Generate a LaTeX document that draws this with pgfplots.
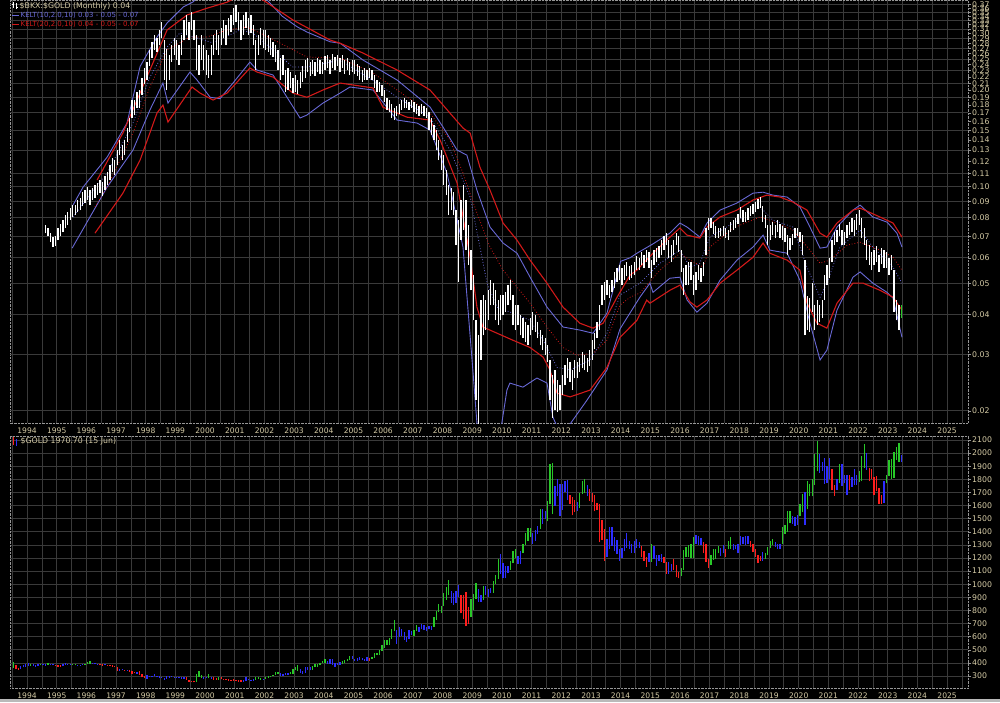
\documentclass[border=0pt]{standalone}
\usepackage{fontspec}
\setmainfont{DejaVu Sans}
\usepackage{pgfplots}
\usepackage{pgfplotstable}
\pgfplotsset{compat=1.18}
\definecolor{tan}{RGB}{212,202,165}
\definecolor{gridc}{RGB}{58,58,58}
\definecolor{frm}{RGB}{150,150,150}
\definecolor{band}{RGB}{185,185,185}
\definecolor{kblue}{RGB}{105,105,215}
\definecolor{kred}{RGB}{210,25,25}
\definecolor{ggreen}{RGB}{40,200,40}
\definecolor{gblue}{RGB}{45,45,255}
\definecolor{gred}{RGB}{255,30,30}

% ---------- BKX:GOLD monthly bars (low, high) ----------
\pgfplotstableread{
x lo hi
1994.625 0.0715 0.0760
1994.708 0.0700 0.0742
1994.792 0.0672 0.0716
1994.875 0.0650 0.0695
1994.958 0.0655 0.0700
1995.042 0.0681 0.0743
1995.125 0.0700 0.0765
1995.208 0.0722 0.0786
1995.292 0.0743 0.0815
1995.375 0.0759 0.0833
1995.458 0.0786 0.0857
1995.542 0.0804 0.0876
1995.625 0.0815 0.0876
1995.708 0.0833 0.0908
1995.792 0.0845 0.0921
1995.875 0.0870 0.0961
1995.958 0.0889 0.0975
1996.042 0.0908 0.0997
1996.125 0.0876 0.0975
1996.208 0.0908 0.0990
1996.292 0.0921 0.1011
1996.375 0.0941 0.1026
1996.458 0.0954 0.1048
1996.542 0.0934 0.1033
1996.625 0.0975 0.1078
1996.708 0.1011 0.1110
1996.792 0.1048 0.1167
1996.875 0.1110 0.1227
1996.958 0.1086 0.1210
1997.042 0.1167 0.1300
1997.125 0.1254 0.1397
1997.208 0.1210 0.1348
1997.292 0.1254 0.1397
1997.375 0.1378 0.1523
1997.458 0.1480 0.1636
1997.542 0.1636 0.1862
1997.625 0.1672 0.1862
1997.708 0.1758 0.1972
1997.792 0.1758 0.2001
1997.875 0.1930 0.2180
1997.958 0.2089 0.2343
1998.042 0.2150 0.2446
1998.125 0.2378 0.2667
1998.208 0.2518 0.2826
1998.292 0.2667 0.2971
1998.375 0.2630 0.2907
1998.458 0.2765 0.3080
1998.542 0.2907 0.3262
1998.625 0.2150 0.2866
1998.708 0.2001 0.2690
1998.792 0.2150 0.2573
1998.875 0.2446 0.2765
1998.958 0.2573 0.2907
1999.042 0.2482 0.2866
1999.125 0.2395 0.2765
1999.208 0.2573 0.2971
1999.292 0.2866 0.3309
1999.375 0.2971 0.3430
1999.458 0.2866 0.3262
1999.542 0.3080 0.3500
1999.625 0.2866 0.3309
1999.708 0.2310 0.2971
1999.792 0.2229 0.2765
1999.875 0.2482 0.2971
1999.958 0.2310 0.2765
2000.042 0.2229 0.2667
2000.125 0.2180 0.2573
2000.208 0.2229 0.2765
2000.292 0.2573 0.2971
2000.375 0.2667 0.3080
2000.458 0.2573 0.2971
2000.542 0.2765 0.3124
2000.625 0.2907 0.3309
2000.708 0.2765 0.3192
2000.792 0.2971 0.3357
2000.875 0.3035 0.3430
2000.958 0.3192 0.3607
2001.042 0.3262 0.3685
2001.125 0.3080 0.3500
2001.208 0.2866 0.3309
2001.292 0.2971 0.3430
2001.375 0.3124 0.3500
2001.458 0.2971 0.3357
2001.542 0.3014 0.3430
2001.625 0.2765 0.3192
2001.708 0.2310 0.2866
2001.792 0.2573 0.2971
2001.875 0.2765 0.3124
2001.958 0.2705 0.3080
2002.042 0.2667 0.3080
2002.125 0.2630 0.2971
2002.208 0.2573 0.2907
2002.292 0.2537 0.2826
2002.375 0.2446 0.2765
2002.458 0.2310 0.2667
2002.542 0.2150 0.2518
2002.625 0.2229 0.2573
2002.708 0.1972 0.2310
2002.792 0.2001 0.2343
2002.875 0.2030 0.2277
2002.958 0.1958 0.2180
2003.042 0.1972 0.2229
2003.125 0.1944 0.2150
2003.208 0.2030 0.2277
2003.292 0.2120 0.2378
2003.375 0.2180 0.2482
2003.458 0.2277 0.2518
2003.542 0.2213 0.2446
2003.625 0.2245 0.2482
2003.708 0.2213 0.2446
2003.792 0.2277 0.2518
2003.875 0.2245 0.2482
2003.958 0.2245 0.2446
2004.042 0.2310 0.2555
2004.125 0.2343 0.2573
2004.208 0.2245 0.2482
2004.292 0.2343 0.2592
2004.375 0.2310 0.2537
2004.458 0.2378 0.2573
2004.542 0.2277 0.2518
2004.625 0.2343 0.2573
2004.708 0.2245 0.2482
2004.792 0.2310 0.2518
2004.875 0.2229 0.2446
2004.958 0.2277 0.2482
2005.042 0.2245 0.2482
2005.125 0.2213 0.2412
2005.208 0.2150 0.2378
2005.292 0.2120 0.2310
2005.375 0.2150 0.2343
2005.458 0.2150 0.2310
2005.542 0.2180 0.2343
2005.625 0.2150 0.2310
2005.708 0.2030 0.2229
2005.792 0.1972 0.2150
2005.875 0.1972 0.2120
2005.958 0.1916 0.2074
2006.042 0.1835 0.2001
2006.125 0.1733 0.1888
2006.208 0.1708 0.1862
2006.292 0.1637 0.1809
2006.375 0.1613 0.1758
2006.458 0.1660 0.1783
2006.542 0.1684 0.1809
2006.625 0.1733 0.1862
2006.708 0.1758 0.1888
2006.792 0.1758 0.1862
2006.875 0.1733 0.1835
2006.958 0.1758 0.1862
2007.042 0.1708 0.1835
2007.125 0.1684 0.1809
2007.208 0.1660 0.1783
2007.292 0.1684 0.1809
2007.375 0.1660 0.1783
2007.458 0.1637 0.1758
2007.542 0.1501 0.1708
2007.625 0.1448 0.1637
2007.708 0.1397 0.1556
2007.792 0.1300 0.1501
2007.875 0.1210 0.1397
2007.958 0.1126 0.1300
2008.042 0.1011 0.1254
2008.125 0.0941 0.1126
2008.208 0.0815 0.1011
2008.292 0.0845 0.0990
2008.375 0.0815 0.0961
2008.458 0.0657 0.0845
2008.542 0.0504 0.0786
2008.625 0.0681 0.0908
2008.708 0.0732 0.1011
2008.792 0.0634 0.0908
2008.875 0.0569 0.0759
2008.958 0.0475 0.0634
2009.042 0.0383 0.0530
2009.125 0.0216 0.0383
2009.208 0.0180 0.0344
2009.292 0.0288 0.0443
2009.375 0.0344 0.0459
2009.458 0.0357 0.0443
2009.542 0.0383 0.0475
2009.625 0.0427 0.0511
2009.708 0.0427 0.0500
2009.792 0.0383 0.0475
2009.875 0.0370 0.0443
2009.958 0.0383 0.0459
2010.042 0.0397 0.0459
2010.125 0.0406 0.0468
2010.208 0.0427 0.0493
2010.292 0.0443 0.0511
2010.375 0.0370 0.0459
2010.458 0.0357 0.0427
2010.542 0.0370 0.0427
2010.625 0.0344 0.0397
2010.708 0.0337 0.0389
2010.792 0.0327 0.0378
2010.875 0.0320 0.0370
2010.958 0.0344 0.0389
2011.042 0.0357 0.0406
2011.125 0.0352 0.0397
2011.208 0.0337 0.0378
2011.292 0.0320 0.0357
2011.375 0.0309 0.0344
2011.458 0.0298 0.0337
2011.542 0.0283 0.0320
2011.625 0.0216 0.0288
2011.708 0.0190 0.0258
2011.792 0.0201 0.0268
2011.875 0.0198 0.0249
2011.958 0.0201 0.0240
2012.042 0.0224 0.0258
2012.125 0.0240 0.0277
2012.208 0.0253 0.0292
2012.292 0.0246 0.0284
2012.375 0.0232 0.0268
2012.458 0.0253 0.0288
2012.542 0.0253 0.0284
2012.625 0.0264 0.0292
2012.708 0.0271 0.0304
2012.792 0.0268 0.0298
2012.875 0.0264 0.0292
2012.958 0.0275 0.0309
2013.042 0.0288 0.0332
2013.125 0.0311 0.0350
2013.208 0.0337 0.0378
2013.292 0.0357 0.0427
2013.375 0.0427 0.0493
2013.458 0.0443 0.0504
2013.542 0.0459 0.0511
2013.625 0.0449 0.0493
2013.708 0.0468 0.0511
2013.792 0.0482 0.0542
2013.875 0.0504 0.0557
2013.958 0.0511 0.0569
2014.042 0.0493 0.0557
2014.125 0.0511 0.0569
2014.208 0.0526 0.0582
2014.292 0.0511 0.0565
2014.375 0.0518 0.0569
2014.458 0.0530 0.0582
2014.542 0.0549 0.0607
2014.625 0.0549 0.0598
2014.708 0.0569 0.0625
2014.792 0.0557 0.0611
2014.875 0.0582 0.0634
2014.958 0.0557 0.0625
2015.042 0.0518 0.0590
2015.125 0.0569 0.0634
2015.208 0.0582 0.0643
2015.292 0.0598 0.0652
2015.375 0.0611 0.0681
2015.458 0.0634 0.0701
2015.542 0.0657 0.0716
2015.625 0.0598 0.0681
2015.708 0.0582 0.0657
2015.792 0.0611 0.0681
2015.875 0.0657 0.0716
2015.958 0.0625 0.0701
2016.042 0.0542 0.0634
2016.125 0.0459 0.0557
2016.208 0.0493 0.0569
2016.292 0.0493 0.0582
2016.375 0.0511 0.0582
2016.458 0.0459 0.0530
2016.542 0.0475 0.0542
2016.625 0.0511 0.0569
2016.708 0.0504 0.0557
2016.792 0.0526 0.0582
2016.875 0.0611 0.0743
2016.958 0.0732 0.0797
2017.042 0.0743 0.0797
2017.125 0.0711 0.0775
2017.208 0.0691 0.0754
2017.292 0.0691 0.0743
2017.375 0.0701 0.0743
2017.458 0.0701 0.0754
2017.542 0.0691 0.0743
2017.625 0.0681 0.0732
2017.708 0.0721 0.0775
2017.792 0.0732 0.0786
2017.875 0.0743 0.0797
2017.958 0.0765 0.0821
2018.042 0.0797 0.0864
2018.125 0.0775 0.0845
2018.208 0.0775 0.0833
2018.292 0.0786 0.0857
2018.375 0.0809 0.0870
2018.458 0.0821 0.0882
2018.542 0.0833 0.0895
2018.625 0.0851 0.0915
2018.708 0.0857 0.0928
2018.792 0.0775 0.0870
2018.875 0.0743 0.0815
2018.958 0.0657 0.0759
2019.042 0.0681 0.0759
2019.125 0.0706 0.0775
2019.208 0.0691 0.0759
2019.292 0.0721 0.0786
2019.375 0.0691 0.0765
2019.458 0.0681 0.0754
2019.542 0.0671 0.0743
2019.625 0.0611 0.0706
2019.708 0.0634 0.0691
2019.792 0.0657 0.0711
2019.875 0.0691 0.0743
2019.958 0.0701 0.0743
2020.042 0.0671 0.0721
2020.125 0.0611 0.0706
2020.208 0.0344 0.0590
2020.292 0.0357 0.0456
2020.375 0.0352 0.0449
2020.458 0.0406 0.0500
2020.542 0.0357 0.0427
2020.625 0.0370 0.0443
2020.708 0.0378 0.0427
2020.792 0.0389 0.0443
2020.875 0.0443 0.0530
2020.958 0.0493 0.0569
2021.042 0.0518 0.0598
2021.125 0.0582 0.0681
2021.208 0.0657 0.0721
2021.292 0.0671 0.0732
2021.375 0.0701 0.0765
2021.458 0.0657 0.0732
2021.542 0.0657 0.0721
2021.625 0.0691 0.0759
2021.708 0.0706 0.0775
2021.792 0.0721 0.0797
2021.875 0.0701 0.0786
2021.958 0.0732 0.0821
2022.042 0.0759 0.0845
2022.125 0.0691 0.0797
2022.208 0.0657 0.0743
2022.292 0.0590 0.0681
2022.375 0.0569 0.0657
2022.458 0.0549 0.0625
2022.542 0.0569 0.0634
2022.625 0.0582 0.0652
2022.708 0.0542 0.0611
2022.792 0.0573 0.0643
2022.875 0.0557 0.0634
2022.958 0.0557 0.0625
2023.042 0.0530 0.0598
2023.125 0.0549 0.0611
2023.208 0.0406 0.0549
2023.292 0.0383 0.0443
2023.375 0.0357 0.0427
}\ratio
\pgfplotstableread{
x lo hi
2023.458 0.0389 0.0427
}\ratiolast

% ---------- Keltner channel lines ----------
\pgfplotstableread{
x y
1995.55 0.0876
1995.89 0.0997
1996.70 0.1236
1997.37 0.1579
1997.81 0.2370
1998.38 0.2928
1998.72 0.3238
1999.26 0.3632
1999.59 0.3765
2000.00 0.4100
2000.70 0.4400
2001.30 0.4500
2001.70 0.4200
2002.09 0.3820
2002.60 0.3400
2003.10 0.3152
2003.43 0.3036
2004.21 0.2830
2004.55 0.2800
2005.32 0.2482
2006.47 0.2150
2007.58 0.1770
2008.02 0.1532
2008.49 0.1300
2008.82 0.1254
2009.16 0.0975
2009.60 0.0748
2010.04 0.0667
2010.51 0.0620
2010.95 0.0522
2011.52 0.0421
2012.06 0.0365
2012.63 0.0357
2013.07 0.0349
2013.54 0.0403
2013.88 0.0530
2014.00 0.0585
2014.32 0.0600
2014.55 0.0620
2015.09 0.0663
2015.66 0.0716
2016.00 0.0770
2016.24 0.0748
2016.67 0.0696
2016.91 0.0770
2017.35 0.0845
2017.92 0.0889
2018.46 0.0954
2018.80 0.0961
2019.13 0.0941
2019.61 0.0928
2020.04 0.0864
2020.38 0.0748
2020.72 0.0643
2020.95 0.0648
2021.29 0.0748
2021.83 0.0845
2022.07 0.0876
2022.50 0.0804
2022.98 0.0775
2023.31 0.0716
2023.48 0.0648
}\bu
\pgfplotstableread{
x y
1996.36 0.1048
1997.23 0.1469
1998.14 0.2310
1998.72 0.3080
1999.39 0.3430
2000.06 0.3600
2000.74 0.3760
2001.30 0.4000
2001.95 0.3820
2002.96 0.3309
2004.21 0.2866
2004.55 0.2800
2005.32 0.2610
2006.47 0.2310
2007.58 0.2001
2008.25 0.1696
2008.69 0.1523
2008.93 0.1469
2009.26 0.1150
2009.60 0.0975
2010.04 0.0770
2010.51 0.0681
2010.95 0.0590
2011.52 0.0500
2012.06 0.0421
2012.63 0.0375
2013.07 0.0362
2013.41 0.0375
2013.88 0.0452
2014.32 0.0530
2014.55 0.0549
2015.09 0.0620
2015.66 0.0696
2016.00 0.0743
2016.24 0.0706
2016.67 0.0691
2016.91 0.0748
2017.35 0.0804
2017.92 0.0845
2018.46 0.0908
2018.93 0.0941
2019.37 0.0928
2019.81 0.0895
2020.28 0.0845
2020.72 0.0716
2020.95 0.0696
2021.29 0.0770
2021.83 0.0845
2022.07 0.0857
2022.74 0.0804
2023.18 0.0770
2023.48 0.0696
}\ru
\pgfplotstableread{
x y
1996.29 0.0864
1996.70 0.0997
1997.57 0.1469
1998.14 0.2045
1998.72 0.2667
1999.49 0.2928
2000.06 0.2928
2000.74 0.3080
2001.41 0.3146
2001.85 0.3014
2002.52 0.2805
2003.43 0.2537
2004.55 0.2518
2005.66 0.2261
2006.47 0.2001
2007.58 0.1696
2008.25 0.1397
2008.69 0.1102
2009.16 0.0827
2009.60 0.0648
2010.04 0.0549
2010.51 0.0486
2010.95 0.0433
2011.52 0.0365
2012.06 0.0315
2012.53 0.0298
2013.07 0.0302
2013.54 0.0332
2013.98 0.0427
2014.32 0.0452
2014.65 0.0466
2015.33 0.0549
2016.00 0.0620
2016.34 0.0590
2016.78 0.0561
2017.01 0.0648
2017.79 0.0743
2018.70 0.0804
2019.03 0.0786
2019.81 0.0732
2020.38 0.0634
2020.72 0.0577
2021.05 0.0590
2021.63 0.0657
2022.07 0.0671
2022.74 0.0634
2023.18 0.0602
2023.48 0.0549
}\rm
\pgfplotstableread{
x y
1995.55 0.0804
1996.70 0.1102
1997.57 0.1578
1998.14 0.2196
1998.72 0.2726
1999.15 0.3014
1999.73 0.2907
2000.27 0.2805
2001.18 0.3080
2001.61 0.3014
2002.29 0.2667
2002.96 0.2361
2003.43 0.2361
2004.55 0.2482
2005.79 0.2104
2006.47 0.1900
2007.58 0.1647
2008.25 0.1300
2008.93 0.0928
2009.26 0.0648
2009.50 0.0500
2009.84 0.0421
2010.37 0.0403
2010.95 0.0383
2011.39 0.0332
2011.86 0.0273
2012.30 0.0268
2012.97 0.0288
2013.54 0.0349
2013.98 0.0459
2014.65 0.0500
2015.33 0.0577
2016.00 0.0634
2016.34 0.0561
2016.67 0.0577
2017.01 0.0696
2017.79 0.0770
2018.70 0.0864
2019.13 0.0786
2019.81 0.0748
2020.28 0.0561
2020.72 0.0452
2020.95 0.0500
2021.39 0.0648
2022.07 0.0732
2022.50 0.0648
2023.18 0.0561
2023.48 0.0500
}\bm
\pgfplotstableread{
x y
1996.29 0.0716
1997.23 0.0954
1997.81 0.1210
1998.38 0.1696
1998.58 0.1796
1998.75 0.1590
1999.56 0.2045
1999.83 0.1958
2000.27 0.1862
2000.74 0.1958
2001.51 0.2344
2001.75 0.2277
2002.29 0.2196
2002.96 0.1958
2003.43 0.1900
2003.97 0.2001
2004.55 0.2104
2005.66 0.2031
2005.99 0.1770
2006.80 0.1647
2007.58 0.1613
2007.92 0.1397
2008.49 0.1026
2008.93 0.0602
2009.16 0.0421
2009.36 0.0365
2009.84 0.0349
2010.37 0.0332
2010.95 0.0315
2011.39 0.0294
2011.62 0.0268
2011.86 0.0227
2012.30 0.0221
2012.97 0.0232
2013.54 0.0273
2013.98 0.0339
2014.55 0.0383
2014.88 0.0443
2014.99 0.0433
2015.66 0.0475
2016.00 0.0493
2016.34 0.0437
2016.57 0.0421
2016.91 0.0443
2017.35 0.0500
2017.92 0.0549
2018.46 0.0602
2018.80 0.0667
2019.03 0.0620
2019.61 0.0590
2020.04 0.0549
2020.28 0.0433
2020.62 0.0375
2020.95 0.0362
2021.29 0.0433
2021.83 0.0500
2022.17 0.0500
2022.74 0.0475
2023.18 0.0452
2023.48 0.0412
}\rl
\pgfplotstableread{
x y
1995.52 0.0643
1996.70 0.0997
1997.57 0.1300
1998.14 0.1733
1998.58 0.2104
1998.75 0.1822
1999.49 0.2277
1999.73 0.2150
2000.17 0.1900
2000.50 0.1880
2000.94 0.2104
2001.51 0.2446
2001.75 0.2310
2002.29 0.2229
2002.76 0.1900
2003.20 0.1637
2003.43 0.1672
2003.97 0.1822
2004.55 0.1958
2004.88 0.2045
2005.66 0.2001
2006.47 0.1613
2007.14 0.1579
2007.58 0.1501
2008.15 0.1102
2008.69 0.0648
2009.03 0.0262
2009.16 0.0183
2009.35 0.0140
2009.90 0.0160
2010.17 0.0232
2010.27 0.0244
2010.71 0.0237
2011.18 0.0253
2011.52 0.0244
2011.72 0.0191
2011.90 0.0175
2012.30 0.0182
2012.87 0.0216
2013.54 0.0268
2013.98 0.0360
2014.65 0.0452
2014.99 0.0500
2015.09 0.0468
2015.66 0.0518
2016.00 0.0522
2016.24 0.0443
2016.57 0.0406
2016.91 0.0433
2017.35 0.0511
2017.92 0.0590
2018.46 0.0648
2018.80 0.0706
2019.03 0.0634
2019.61 0.0620
2020.04 0.0511
2020.38 0.0375
2020.72 0.0288
2020.95 0.0309
2021.29 0.0412
2021.83 0.0522
2022.07 0.0542
2022.50 0.0500
2022.98 0.0468
2023.18 0.0449
2023.48 0.0339
}\bl

% ---------- GOLD monthly bars (low, high, colour code 0 green 1 blue 2 red) ----------
\pgfplotstableread{
x lo hi c
1993.542 360 406 0
1993.625 350 380 2
1993.708 345 362 2
1993.792 355 375 1
1993.875 365 382 1
1993.958 370 393 1
1994.042 377 396 1
1994.125 375 392 0
1994.208 377 393 1
1994.292 369 386 1
1994.375 376 392 1
1994.458 381 394 0
1994.542 380 392 1
1994.625 377 388 1
1994.708 384 397 0
1994.792 383 394 1
1994.875 381 390 1
1994.958 376 385 2
1995.042 372 384 2
1995.125 372 382 2
1995.208 375 393 1
1995.292 387 396 1
1995.375 383 392 1
1995.458 382 391 1
1995.542 382 390 0
1995.625 380 389 0
1995.708 381 386 1
1995.792 381 386 1
1995.875 383 388 1
1995.958 384 389 0
1996.042 388 410 0
1996.125 394 416 0
1996.208 393 401 1
1996.292 388 396 1
1996.375 387 395 1
1996.458 381 392 2
1996.542 379 388 2
1996.625 385 390 1
1996.708 379 387 2
1996.792 378 384 2
1996.875 372 383 2
1996.958 366 377 2
1997.042 340 368 2
1997.125 339 351 1
1997.208 345 356 1
1997.292 337 349 2
1997.375 338 348 1
1997.458 334 346 2
1997.542 318 336 2
1997.625 319 328 2
1997.708 317 330 1
1997.792 309 336 2
1997.875 290 313 2
1997.958 285 298 2
1998.042 278 304 1
1998.125 293 303 1
1998.208 290 303 1
1998.292 299 314 1
1998.375 290 303 1
1998.458 288 298 1
1998.542 287 296 1
1998.625 272 288 1
1998.708 278 300 1
1998.792 288 302 1
1998.875 290 298 1
1998.958 285 295 1
1999.042 283 293 1
1999.125 283 292 1
1999.208 278 290 1
1999.292 278 289 1
1999.375 271 290 2
1999.458 256 272 2
1999.542 252 262 2
1999.625 252 260 2
1999.708 255 312 0
1999.792 293 338 0
1999.875 287 305 0
1999.958 280 292 1
2000.042 281 296 1
2000.125 281 317 0
2000.208 278 296 1
2000.292 273 290 2
2000.375 270 283 2
2000.458 272 294 0
2000.542 275 290 2
2000.625 270 280 2
2000.708 271 277 2
2000.792 264 276 2
2000.875 263 270 2
2000.958 265 275 2
2001.042 262 273 2
2001.125 255 270 2
2001.208 255 268 2
2001.292 255 266 1
2001.375 262 292 1
2001.458 266 276 1
2001.542 263 272 1
2001.625 264 280 1
2001.708 271 293 0
2001.792 276 290 0
2001.875 271 282 0
2001.958 273 280 1
2002.042 276 290 0
2002.125 286 302 0
2002.208 290 303 0
2002.292 300 311 0
2002.375 307 327 0
2002.458 315 330 0
2002.542 301 326 1
2002.625 302 316 1
2002.708 310 326 1
2002.792 311 320 1
2002.875 315 330 0
2002.958 317 350 0
2003.042 342 372 0
2003.125 340 385 0
2003.208 323 355 1
2003.292 318 340 1
2003.375 326 372 1
2003.458 344 366 1
2003.542 342 366 1
2003.625 346 374 0
2003.708 370 391 0
2003.792 370 392 0
2003.875 380 401 0
2003.958 398 418 0
2004.042 399 427 0
2004.125 391 417 1
2004.208 393 427 1
2004.292 381 428 1
2004.375 372 397 1
2004.458 383 398 1
2004.542 387 408 1
2004.625 389 414 0
2004.708 397 420 0
2004.792 411 430 0
2004.875 422 455 0
2004.958 428 452 1
2005.042 411 430 1
2005.125 411 436 1
2005.208 422 447 1
2005.292 419 438 1
2005.375 414 432 1
2005.458 414 441 1
2005.542 416 436 2
2005.625 431 448 0
2005.708 437 475 0
2005.792 460 479 0
2005.875 457 498 0
2005.958 491 538 0
2006.042 517 572 0
2006.125 538 575 0
2006.208 535 590 0
2006.292 584 656 0
2006.375 640 730 0
2006.458 543 650 1
2006.542 600 672 1
2006.625 608 660 1
2006.708 575 635 1
2006.792 560 600 1
2006.875 581 650 1
2006.958 610 645 1
2007.042 603 654 0
2007.125 645 690 0
2007.208 636 673 1
2007.292 660 696 1
2007.375 650 690 1
2007.458 640 670 1
2007.542 655 685 1
2007.625 650 680 1
2007.708 675 750 0
2007.792 730 795 0
2007.875 785 848 0
2007.958 780 835 0
2008.042 832 931 0
2008.125 880 975 0
2008.208 920 1033 0
2008.292 860 952 1
2008.375 845 935 1
2008.458 860 948 1
2008.542 905 992 1
2008.625 780 918 2
2008.708 736 914 2
2008.792 681 939 2
2008.875 700 827 2
2008.958 753 885 0
2009.042 800 928 0
2009.125 890 1007 0
2009.208 866 964 1
2009.292 865 920 1
2009.375 880 985 0
2009.458 915 990 1
2009.542 905 960 1
2009.625 930 970 1
2009.708 935 1025 0
2009.792 1000 1070 0
2009.875 1040 1195 0
2009.958 1080 1227 1
2010.042 1045 1162 1
2010.125 1045 1140 1
2010.208 1085 1140 1
2010.292 1110 1180 0
2010.375 1160 1250 0
2010.458 1200 1265 0
2010.542 1155 1215 1
2010.625 1155 1250 1
2010.708 1240 1310 0
2010.792 1300 1388 0
2010.875 1330 1425 0
2010.958 1360 1432 0
2011.042 1310 1390 1
2011.125 1330 1410 1
2011.208 1380 1445 1
2011.292 1420 1575 0
2011.375 1460 1577 1
2011.458 1495 1560 1
2011.542 1480 1632 0
2011.625 1610 1914 0
2011.708 1535 1923 0
2011.792 1600 1750 1
2011.875 1670 1804 1
2011.958 1520 1765 1
2012.042 1565 1764 1
2012.125 1700 1790 1
2012.208 1640 1792 1
2012.292 1615 1680 2
2012.375 1525 1665 2
2012.458 1550 1640 2
2012.542 1560 1630 1
2012.625 1585 1695 0
2012.708 1690 1790 0
2012.792 1695 1800 0
2012.875 1670 1755 1
2012.958 1635 1725 2
2013.042 1625 1695 2
2013.125 1555 1680 2
2013.208 1565 1617 2
2013.292 1320 1610 2
2013.375 1338 1488 2
2013.458 1180 1420 2
2013.542 1208 1348 1
2013.625 1270 1433 1
2013.708 1290 1435 1
2013.792 1251 1362 1
2013.875 1227 1340 1
2013.958 1180 1268 1
2014.042 1200 1280 1
2014.125 1250 1345 1
2014.208 1280 1392 1
2014.292 1268 1330 1
2014.375 1240 1310 1
2014.458 1240 1330 1
2014.542 1280 1345 1
2014.625 1275 1325 1
2014.708 1205 1290 2
2014.792 1180 1255 2
2014.875 1130 1210 2
2014.958 1170 1240 1
2015.042 1170 1307 0
2015.125 1190 1295 1
2015.208 1142 1220 1
2015.292 1175 1225 1
2015.375 1170 1232 1
2015.458 1162 1205 2
2015.542 1080 1173 2
2015.625 1077 1170 1
2015.708 1100 1157 1
2015.792 1112 1192 2
2015.875 1052 1144 2
2015.958 1045 1090 2
2016.042 1060 1125 0
2016.125 1107 1263 0
2016.208 1205 1287 0
2016.292 1206 1300 0
2016.375 1200 1305 0
2016.458 1200 1362 0
2016.542 1310 1375 1
2016.625 1300 1365 1
2016.708 1300 1352 1
2016.792 1240 1320 2
2016.875 1170 1305 2
2016.958 1122 1195 2
2017.042 1150 1225 0
2017.125 1185 1265 0
2017.208 1195 1265 0
2017.292 1240 1295 0
2017.375 1215 1275 1
2017.458 1235 1297 1
2017.542 1205 1270 2
2017.625 1265 1330 0
2017.708 1270 1357 0
2017.792 1260 1306 1
2017.875 1265 1300 1
2017.958 1235 1310 1
2018.042 1300 1366 1
2018.125 1305 1360 1
2018.208 1300 1365 1
2018.292 1310 1365 1
2018.375 1281 1326 2
2018.458 1245 1310 2
2018.542 1210 1265 2
2018.625 1160 1225 2
2018.708 1180 1215 2
2018.792 1180 1245 1
2018.875 1195 1240 0
2018.958 1222 1285 0
2019.042 1275 1328 0
2019.125 1300 1348 0
2019.208 1285 1325 1
2019.292 1266 1310 1
2019.375 1268 1310 1
2019.458 1305 1440 0
2019.542 1385 1455 0
2019.625 1400 1555 0
2019.708 1465 1557 0
2019.792 1460 1518 1
2019.875 1445 1515 1
2019.958 1455 1525 1
2020.042 1520 1611 0
2020.125 1550 1690 0
2020.208 1450 1705 1
2020.292 1570 1790 0
2020.375 1670 1765 0
2020.458 1670 1800 0
2020.542 1755 1990 0
2020.625 1860 2090 0
2020.708 1850 1990 1
2020.792 1860 1935 1
2020.875 1765 1965 1
2020.958 1770 1905 1
2021.042 1800 1960 1
2021.125 1715 1875 2
2021.208 1676 1755 2
2021.292 1720 1800 1
2021.375 1775 1915 0
2021.458 1750 1915 1
2021.542 1770 1835 1
2021.625 1680 1835 1
2021.708 1720 1835 2
2021.792 1745 1815 1
2021.875 1760 1880 1
2021.958 1755 1830 1
2022.042 1780 1860 0
2022.125 1785 1975 0
2022.208 1890 2070 0
2022.292 1870 2000 1
2022.375 1785 1885 2
2022.458 1805 1880 2
2022.542 1680 1815 2
2022.625 1710 1825 2
2022.708 1615 1735 2
2022.792 1615 1680 2
2022.875 1620 1790 1
2022.958 1770 1835 0
2023.042 1825 1950 0
2023.125 1805 1955 0
2023.208 1810 2010 0
2023.292 1950 2050 0
2023.375 1935 2080 0
2023.458 1932 1985 1
}\gold

\pgfplotsset{
  panel/.style={
    scale only axis, width=958pt,
    xmin=1993.427, xmax=2025.705,
    axis background/.style={fill=black},
    axis line style={frm, densely dotted},
    grid=both,
    major grid style={gridc, line width=0.6pt, solid},
    minor grid style={gridc, line width=0.6pt, solid},
    xtick={1994,1995,...,2025},
    minor xtick={1993.5,1994.5,...,2025.5},
    xtick pos=left, ytick pos=right,
    yticklabel pos=right,
    tick align=outside,
    major tick length=3pt, minor tick length=0pt,
    xtick style={draw=none},
    ytick style={frm, line width=0.5pt},
    xticklabel style={text=tan, font=\fontsize{7.6}{9}\selectfont, inner sep=1pt, yshift=-1pt},
    yticklabel style={text=tan, font=\fontsize{7.8}{9}\selectfont, inner sep=1pt, anchor=west},
    /pgf/number format/1000 sep={},
    /pgf/number format/assume math mode=true,
    clip=true,
  },
  bars/.style={draw=none, mark=none, forget plot,
    error bars/y dir=plus, error bars/y explicit, error bars/error mark=none,
    error bars/error bar style={draw=#1, line width=1.3pt, solid}},
}

\begin{document}
\begin{tikzpicture}
\useasboundingbox (0,0) rectangle (1000pt,702pt);
\fill[black] (0,0) rectangle (1000pt,702pt);
\fill[band] (0,0) rectangle (1000pt,3pt);

% ---------------- top panel ----------------
\begin{axis}[panel, at={(10pt,279pt)}, anchor=south west, height=423pt,
  ymode=log, ymin=0.01832, ymax=0.382,
  ymajorgrids=false, yminorgrids=false,
  ytick={0.02,0.03,0.04,0.05,0.06,0.07,0.08,0.09,0.10,0.11,0.12,0.13,0.14,0.15,0.16,0.17,0.18,0.19,0.20,0.21,0.22,0.23,0.24,0.25,0.26,0.27,0.28,0.29,0.30,0.31,0.32,0.33,0.34,0.35,0.36,0.37},
  yticklabels={0.02,0.03,0.04,0.05,0.06,0.07,0.08,0.09,0.10,0.11,0.12,0.13,0.14,0.15,0.16,0.17,0.18,0.19,0.20,0.21,0.22,0.23,0.24,0.25,0.26,0.27,0.28,0.29,0.30,0.31,0.32,0.33,0.34,0.35,0.36,0.37},
  extra y ticks={0.02,0.03,0.04,0.05,0.06,0.07,0.08,0.09,0.10,0.11,0.13,0.15,0.17,0.19,0.21,0.23,0.25,0.27,0.29,0.31,0.33,0.35,0.37},
  extra y tick labels={},
  extra y tick style={grid=major, major tick length=0pt}]
\addplot[kblue, line width=0.9pt] table[x=x,y=y] \bu;
\addplot[kblue, line width=0.9pt] table[x=x,y=y] \bl;
\addplot[kred, line width=1.1pt] table[x=x,y=y] \ru;
\addplot[kred, line width=1.1pt] table[x=x,y=y] \rl;
\addplot[kred, line width=0.8pt, dotted] table[x=x,y=y] \rm;
\addplot[kblue, line width=0.8pt, dotted] table[x=x,y=y] \bm;
\addplot[bars=white] table[x=x, y=lo, y error plus expr=\thisrow{hi}-\thisrow{lo}] \ratio;
\addplot[bars=ggreen] table[x=x, y=lo, y error plus expr=\thisrow{hi}-\thisrow{lo}] \ratiolast;
\end{axis}

% ---------------- bottom panel ----------------
\begin{axis}[panel, at={(10pt,14pt)}, anchor=south west, height=252pt,
  ymin=208.3, ymax=2130.5,
  ytick={300,400,...,2100}]
\addplot[restrict expr to domain={\thisrow{c}}{-0.5:0.5}, bars=ggreen] table[x=x, y=lo, y error plus expr=\thisrow{hi}-\thisrow{lo}] \gold;
\addplot[restrict expr to domain={\thisrow{c}}{0.5:1.5}, bars=gblue] table[x=x, y=lo, y error plus expr=\thisrow{hi}-\thisrow{lo}] \gold;
\addplot[restrict expr to domain={\thisrow{c}}{1.5:2.5}, bars=gred] table[x=x, y=lo, y error plus expr=\thisrow{hi}-\thisrow{lo}] \gold;
\end{axis}

% ---------------- panel titles ----------------
\draw[white, line width=0.8pt] (13pt,694pt) -- (13pt,700pt) (12pt,698pt) -- (13pt,698pt) (16.5pt,693pt) -- (16.5pt,699pt) (16.5pt,695pt) -- (17.5pt,695pt);
\node[anchor=west, inner sep=0pt, text=tan, font=\fontsize{7.8}{9}\selectfont] at (19.5pt,696pt) {\$BKX:\$GOLD (Monthly) 0.04};
\draw[kblue, line width=1.2pt] (12pt,686.3pt) -- (19pt,686.3pt);
\node[anchor=west, inner sep=0pt, text=kblue, font=\fontsize{7}{8}\selectfont] at (20.5pt,686.3pt) {KELT(10,2.0,10) 0.03 - 0.05 - 0.07};
\draw[kred, line width=1.2pt] (12pt,677.7pt) -- (19pt,677.7pt);
\node[anchor=west, inner sep=0pt, text=kred, font=\fontsize{7}{8}\selectfont] at (20.5pt,677.7pt) {KELT(20,2.0,10) 0.04 - 0.05 - 0.07};

\draw[gred, line width=0.9pt] (13pt,257pt) -- (13pt,265pt);
\draw[gblue, line width=0.9pt] (16.5pt,256pt) -- (16.5pt,263pt);
\node[anchor=west, inner sep=0pt, text=tan, font=\fontsize{7.8}{9}\selectfont] at (20.5pt,261pt) {\$GOLD 1970.70 (15 Jun)};
\end{tikzpicture}
\end{document}
